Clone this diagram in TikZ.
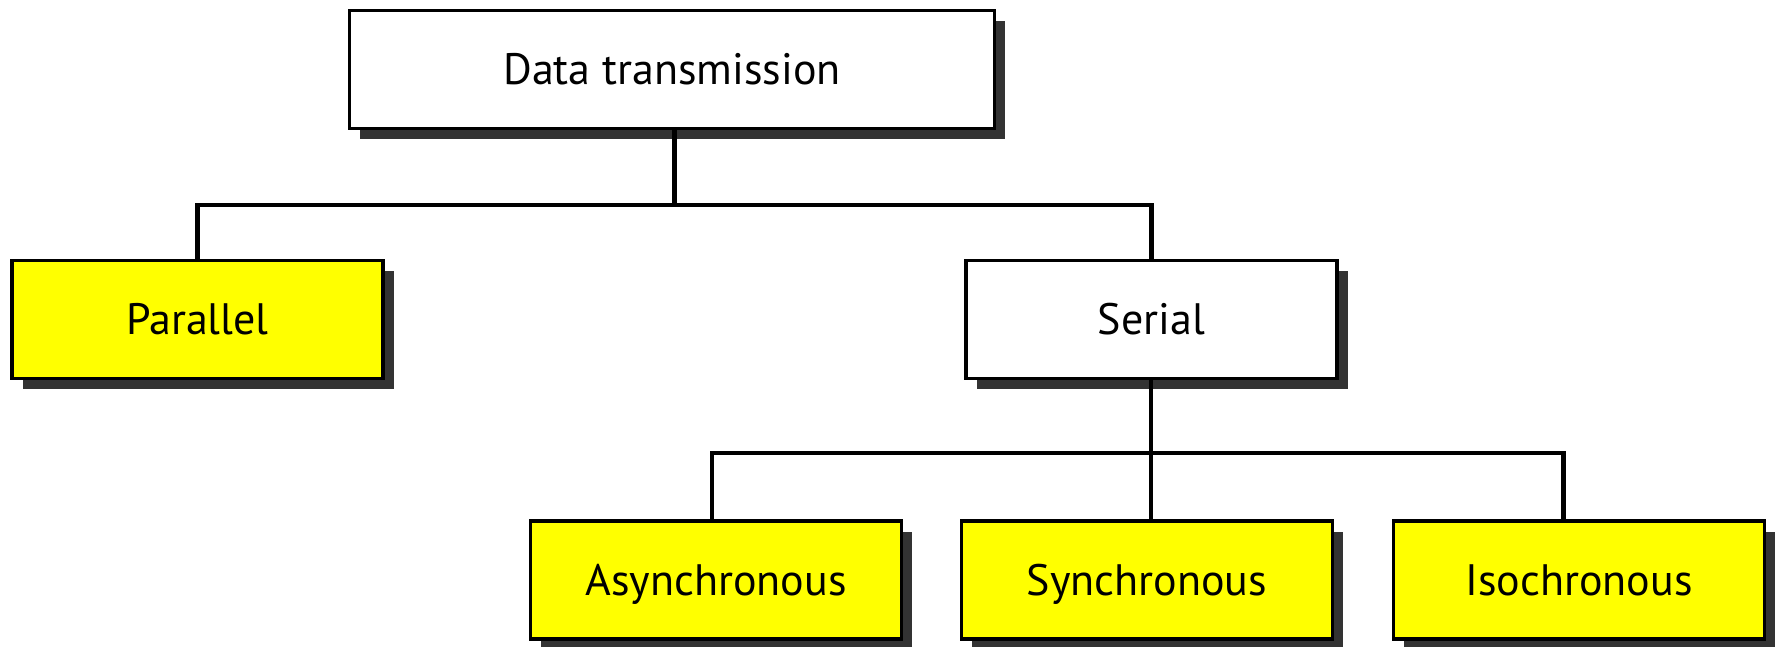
\documentclass[tikz,border=0pt]{standalone}
\usepackage{fontspec}
\setmainfont{PT Sans}
\usetikzlibrary{calc}
\definecolor{boxyellow}{RGB}{255,255,0}
\definecolor{shadowgray}{RGB}{51,51,51}
\tikzset{
  treebox/.style={draw=black, line width=3.8pt, minimum width=371pt, minimum height=118pt,
    inner sep=0pt, text height=30pt, text depth=0pt, font=\fontsize{44}{50}\selectfont,
    preaction={fill=shadowgray, draw=none, transform canvas={shift={(10.5pt,-10.5pt)}}}},
  leafbox/.style={treebox, fill=boxyellow},
  innerbox/.style={treebox, fill=white},
  conn/.style={draw=black, line width=4.2pt, line cap=rect}
}
\begin{document}
\begin{tikzpicture}[x=1pt,y=-1pt]
\useasboundingbox (0,0) rectangle (1779,646);
\node[innerbox, minimum width=645pt] (dt) at (672,69.5) {Data transmission};
\node[leafbox] (par) at (197.5,319.5) {Parallel};
\node[innerbox] (ser) at (1151.5,319.5) {Serial};
\node[leafbox] (asy) at (716,580) {Asynchronous};
\node[leafbox] (syn) at (1147,580) {Synchronous};
\node[leafbox] (iso) at (1579,580) {Isochronous};
\coordinate (j1) at (674.5,205);
\coordinate (j2) at (1151,453);
\draw[conn] (dt.south -| j1) -- (j1);
\draw[conn] (par.north) |- (j1) -| (ser.north);
\draw[conn] (ser.south -| j2) -- (j2);
\draw[conn] ($(asy.north)+(-4,0)$) |- (j2) -| ($(iso.north)+(-15.5,0)$);
\draw[conn] (j2) -- (syn.north -| j2);
\end{tikzpicture}
\end{document}
